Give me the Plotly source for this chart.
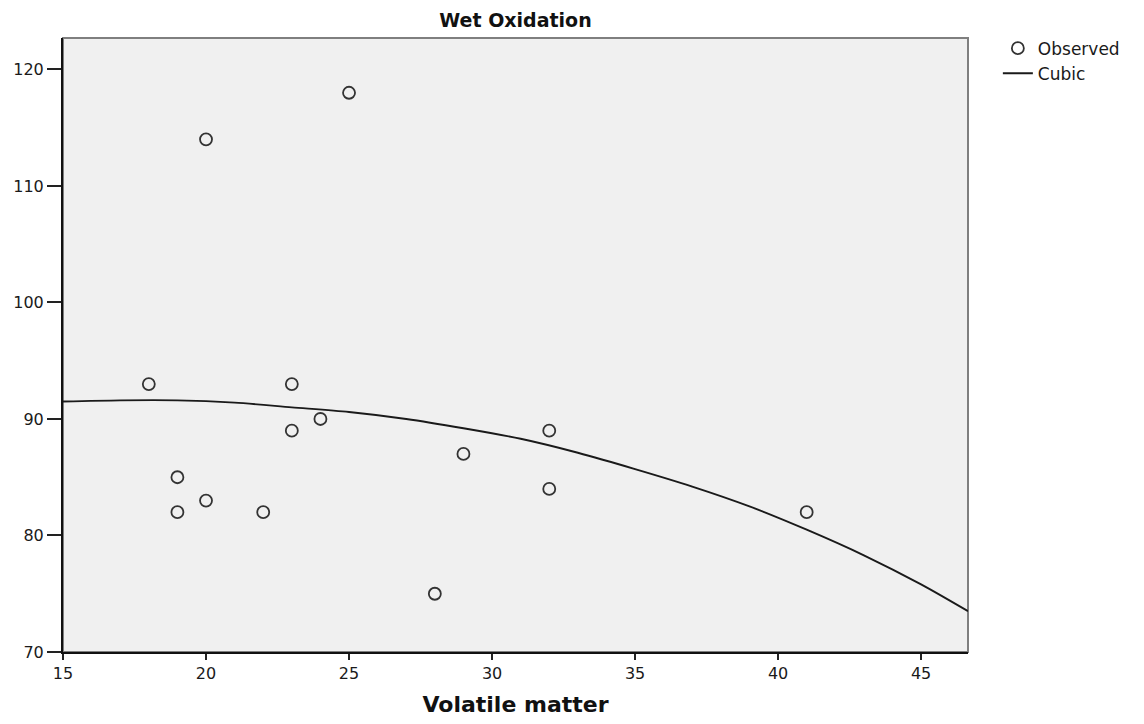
import plotly.graph_objects as go

# Observed values
volatile_matter = [18, 19, 19, 20, 20, 22, 23, 23, 24, 25, 28, 29, 32, 32, 41]
wet_oxidation = [93, 85, 82, 83, 114, 82, 93, 89, 90, 118, 75, 87, 89, 84, 82]

# Cubic fit curve, sampled along the x range
cubic_x = [15, 17, 19, 21, 23, 25, 27, 29, 31, 33, 35, 37, 39, 41, 43, 45, 46.64]
cubic_y = [91.5, 91.6, 91.6, 91.4, 91.0, 90.6, 90.0, 89.2, 88.3, 87.1, 85.7,
           84.2, 82.5, 80.5, 78.3, 75.8, 73.5]

x_ticks = [15, 20, 25, 30, 35, 40, 45]
y_ticks = [70, 80, 90, 100, 110, 120]

FONT = "DejaVu Sans, Verdana, sans-serif"
TEXT = "#1a1a1a"

fig = go.Figure()
fig.add_trace(go.Scatter(
    x=volatile_matter, y=wet_oxidation, mode="markers", name="Observed",
    marker=dict(symbol="circle-open", size=12, color="#333333",
                line=dict(width=1.8, color="#333333")),
))
fig.add_trace(go.Scatter(
    x=cubic_x, y=cubic_y, mode="lines", name="Cubic",
    line=dict(color="#1a1a1a", width=1.9, shape="spline", smoothing=0.8),
))

fig.update_layout(
    width=1144, height=724,
    margin=dict(l=63, r=176, t=38, b=72),
    paper_bgcolor="white", plot_bgcolor="#f0f0f0",
    font=dict(family=FONT, size=15, color=TEXT),
    title=dict(text="<b>Wet Oxidation</b>", x=(63 + 968) / 2 / 1144, xanchor="center",
               y=1 - 20 / 724, yanchor="middle",
               font=dict(family=FONT, size=19, color="#111111")),
    showlegend=True,
    legend=dict(x=1.033, y=1.012, xanchor="left", yanchor="top",
                font=dict(family=FONT, size=17, color=TEXT),
                bgcolor="rgba(0,0,0,0)", tracegroupgap=0, itemwidth=30),
    shapes=[dict(type="rect", xref="paper", yref="paper", x0=0, x1=1, y0=0, y1=1,
                 line=dict(color="#7f7f7f", width=2), layer="below")],
)
fig.update_xaxes(
    range=[15, 46.64], tickvals=x_ticks, showgrid=False, zeroline=False,
    showline=True, linecolor="#111111", linewidth=2,
    ticks="outside", ticklen=6, tickwidth=2, tickcolor="#222222",
    tickfont=dict(family=FONT, size=16, color=TEXT),
    title=dict(text="<b>Volatile matter</b>", standoff=14,
               font=dict(family=FONT, size=22, color="#111111")),
)
fig.update_yaxes(
    range=[70, 122.7], tickvals=y_ticks, showgrid=False, zeroline=False,
    showline=True, linecolor="#111111", linewidth=2,
    ticks="outside", ticklen=14, tickwidth=2, tickcolor="#222222",
    tickfont=dict(family=FONT, size=16, color=TEXT),
)

fig.write_html("out.html")
